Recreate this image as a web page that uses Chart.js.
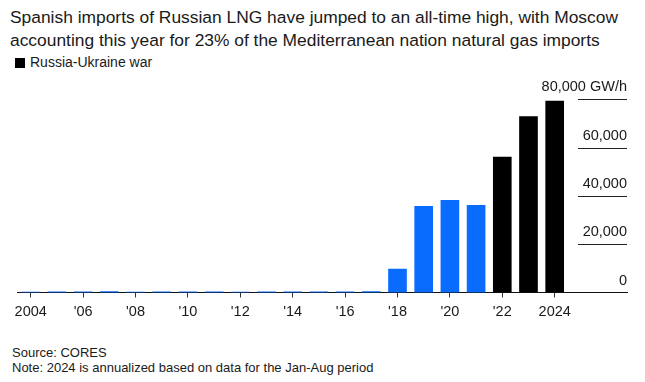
<!DOCTYPE html>
<html>
<head>
<meta charset="utf-8">
<script src="https://cdn.jsdelivr.net/npm/chart.js@4.4.1/dist/chart.umd.min.js"></script>
<style>
  html, body { margin: 0; padding: 0; background: #fff; }
  body { width: 645px; height: 382px; position: relative; overflow: hidden;
         font-family: "Liberation Sans", Arial, Helvetica, sans-serif; color: #1a1a1a; }
  #title { position: absolute; left: 10px; top: 6px; font-size: 17.4px; line-height: 23px; white-space: nowrap; }
  #legend { position: absolute; left: 15px; top: 53px; font-size: 14px; line-height: 18px; white-space: nowrap; }
  #legend .sw { display: inline-block; width: 10px; height: 10px; background: #000; margin-right: 5px; vertical-align: -1px; }
  #footer { position: absolute; left: 12px; top: 345px; font-size: 13px; line-height: 15px; white-space: nowrap; }
  #wrap { position: absolute; left: 0; top: 70px; width: 645px; height: 260px; }
</style>
</head>
<body>
<div id="title">Spanish imports of Russian LNG have jumped to an all-time high, with Moscow<br>accounting this year for 23% of the Mediterranean nation natural gas imports</div>
<div id="legend"><span class="sw"></span>Russia-Ukraine war</div>
<div id="wrap"><canvas id="c"></canvas></div>
<div id="footer">Source: CORES<br>Note: 2024 is annualized based on data for the Jan-Aug period</div>
<script>
// ---- Data (GW/h) ----
const years = [2004, 2005, 2006, 2007, 2008, 2009, 2010, 2011, 2012, 2013, 2014,
               2015, 2016, 2017, 2018, 2019, 2020, 2021, 2022, 2023, 2024];
const importsGWh = [200, 300, 250, 350, 200, 300, 250, 300, 200, 250, 300,
                    250, 300, 350, 9700, 35700, 38200, 36100, 56100, 72800, 79300];
const warYears = [2022, 2023, 2024];
const xTickYears = [2004, 2006, 2008, 2010, 2012, 2014, 2016, 2018, 2020, 2022, 2024];
const yTickValues = [0, 20000, 40000, 60000, 80000];
const yUnit = ' GW/h';

const BLUE = '#0a6cff';
const BLACK = '#000000';

const fontFamily = '"Liberation Sans", Arial, Helvetica, sans-serif';
Chart.defaults.font.family = fontFamily;
Chart.defaults.color = '#1a1a1a';

const yLabelsPlugin = {
  id: 'yLabels',
  afterDatasetsDraw(chart) {
    const ctx = chart.ctx;
    const y = chart.scales.y;
    const right = chart.chartArea.right;
    const left = right - 49;
    ctx.save();
    ctx.strokeStyle = '#222';
    ctx.lineWidth = 1;
    ctx.fillStyle = '#1a1a1a';
    ctx.font = '14.5px ' + fontFamily;
    ctx.textAlign = 'right';
    ctx.textBaseline = 'middle';
    yTickValues.forEach((v, i) => {
      const py = Math.round(y.getPixelForValue(v)) + 0.5;
      if (v !== 0) {
        ctx.beginPath();
        ctx.moveTo(left, py);
        ctx.lineTo(right, py);
        ctx.stroke();
      }
      let label = v.toLocaleString('en-US');
      if (i === yTickValues.length - 1) label += yUnit;
      ctx.fillText(label, right, py - 13);
    });
    ctx.restore();
  }
};

new Chart(document.getElementById('c'), {
  type: 'bar',
  data: {
    datasets: [{
      data: years.map((yr, i) => ({ x: yr, y: importsGWh[i] })),
      backgroundColor: years.map(yr => warYears.includes(yr) ? BLACK : BLUE),
      barThickness: 18,
      borderWidth: 0
    }]
  },
  options: {
    responsive: true,
    maintainAspectRatio: false,
    animation: false,
    layout: { padding: { left: 17.6, right: 18, top: 10, bottom: 0 } },
    plugins: { legend: { display: false }, tooltip: { enabled: false } },
    scales: {
      x: {
        type: 'linear',
        offset: false,
        min: 2003.5,
        max: 2026.76,
        afterBuildTicks(scale) {
          scale.ticks = xTickYears.map(v => ({ value: v }));
        },
        afterFit(scale) { scale.height = 37.5; },
        ticks: {
          autoSkip: false,
          maxRotation: 0,
          padding: 6,
          font: { size: 14.5 },
          color: '#1a1a1a',
          callback(v) {
            if (v === xTickYears[0] || v === xTickYears[xTickYears.length - 1]) return String(v);
            return "'" + String(v).slice(2);
          }
        },
        grid: { display: true, offset: false, drawOnChartArea: false, drawTicks: true, tickLength: 5, tickColor: '#333', lineWidth: 1 },
        border: { display: true, color: '#111', width: 1 }
      },
      y: {
        display: false,
        min: 0,
        max: 88000
      }
    }
  },
  plugins: [yLabelsPlugin]
});
</script>
</body>
</html>
